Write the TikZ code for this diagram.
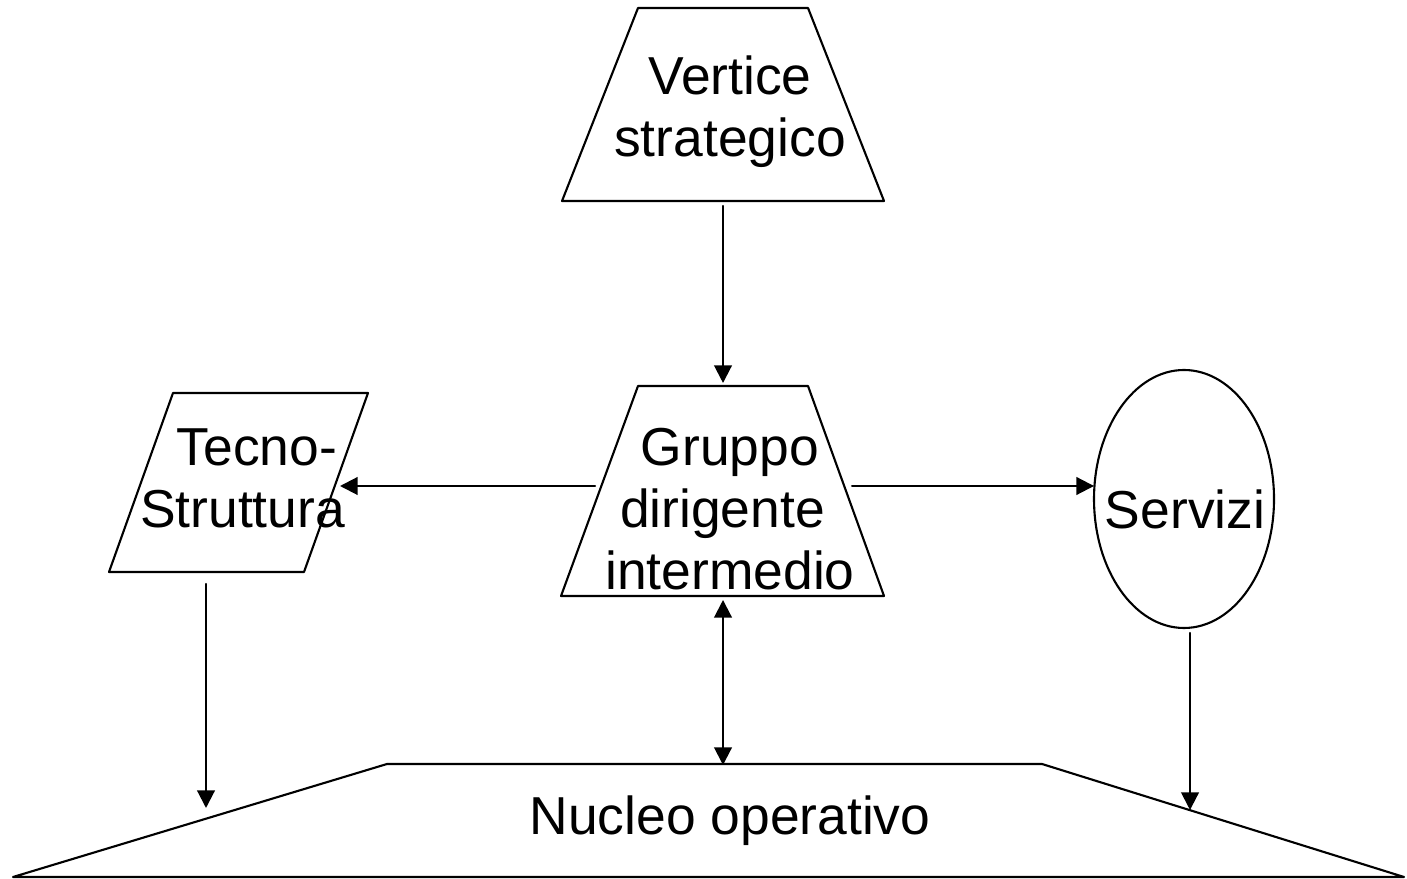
\documentclass[tikz,border=0pt]{standalone}
\usepackage{fontspec}
\setmainfont{Liberation Sans}
\usepackage{tkz-euclide}
\usetikzlibrary{arrows.meta}
\tikzset{>={Triangle[length=5pt,width=5pt]}}
\tikzset{testo/.style={font=\fontsize{15.2}{17.6}\selectfont, inner sep=0pt, align=center}}

\begin{document}
\begin{tikzpicture}[line width=0.6pt]
    \useasboundingbox (0,0) rectangle (14.07,8.78);
    \tkzDefPoints{6.38/8.70/V1, 8.08/8.70/V2, 8.84/6.77/V3, 5.62/6.77/V4}
    \tkzDefPoints{6.38/4.92/G1, 8.08/4.92/G2, 8.84/2.82/G3, 5.61/2.82/G4}
    \tkzDefPoints{1.73/4.85/T1, 3.68/4.85/T2, 3.04/3.06/T3, 1.09/3.06/T4}
    \tkzDefPoints{0.13/0.01/N1, 3.87/1.14/N2, 10.42/1.14/N3, 14.04/0.01/N4}
    \tkzDefPoints{11.84/3.79/S}
    \tkzDrawPolygon[line width=0.6pt](V1,V2,V3,V4)
    \tkzDrawPolygon[line width=0.6pt](G1,G2,G3,G4)
    \tkzDrawPolygon[line width=0.6pt](T1,T2,T3,T4)
    \tkzDrawPolygon[line width=0.6pt](N1,N2,N3,N4)
    \draw (S) ellipse [x radius=0.90, y radius=1.29];
    \node[testo] (vertice) at (7.30,7.66) {Vertice\\strategico};
    \node[testo] (gruppo) at (7.30,3.69) {Gruppo\\dirigente\kern0.28em\\intermedio};
    \node[testo] (tecno) at (2.425,4.00) {\kern0.54em Tecno-\\Struttura};
    \node[testo] (servizi) at (11.85,3.69) {Servizi};
    \node[testo] (nucleo) at (7.30,0.57) {Nucleo operativo};
    % frecce
    \tkzDefPoints{7.23/6.72/a1, 7.23/4.95/a2, 5.95/3.92/b1, 3.40/3.92/b2,
                  8.52/3.92/c1, 10.94/3.92/c2, 2.06/2.94/d1, 2.06/0.70/d2,
                  11.90/2.45/e1, 11.90/0.68/e2, 7.23/2.78/f1, 7.23/1.13/f2}
    \tkzDrawSegments[->, line width=0.6pt](a1,a2 b1,b2 c1,c2 d1,d2 e1,e2)
    \tkzDrawSegment[<->, line width=0.6pt](f1,f2)
\end{tikzpicture}
\end{document}
